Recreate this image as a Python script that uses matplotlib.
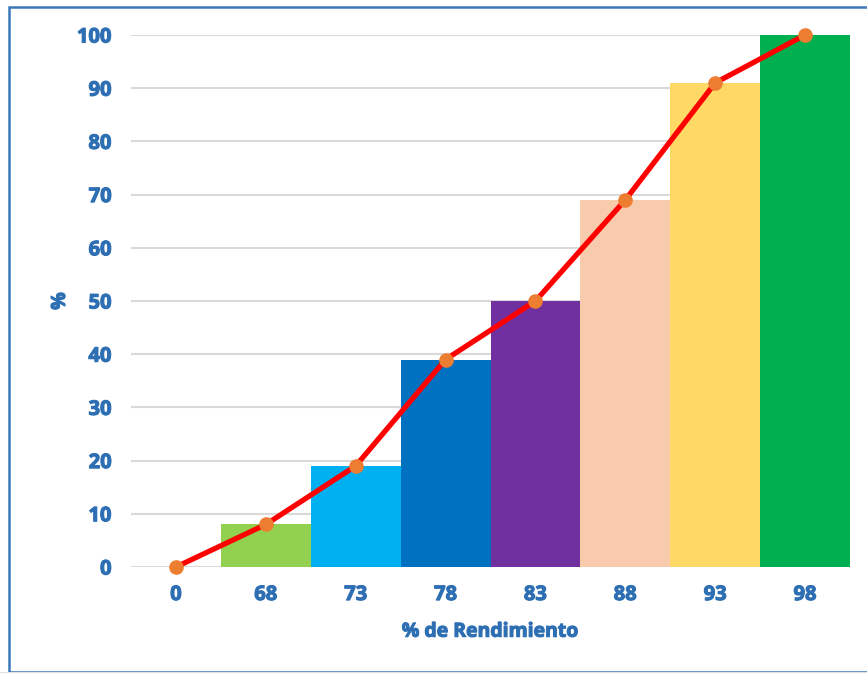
import matplotlib
matplotlib.use("Agg")
import matplotlib.pyplot as plt
import matplotlib.patheffects as pe
from matplotlib.patches import Rectangle

# Cumulative performance data
categories = ["0", "68", "73", "78", "83", "88", "93", "98"]
bar_values = [8, 19, 39, 50, 69, 91, 100]          # bars for 68 .. 98
line_values = [0, 8, 19, 39, 50, 69, 91, 100]      # cumulative curve incl. origin
bar_colors = ["#92D050", "#00B0F0", "#0070C0", "#7030A0",
              "#F8CBAD", "#FFD966", "#00B050"]
y_ticks = [0, 10, 20, 30, 40, 50, 60, 70, 80, 90, 100]

text_color = "#2E6FB4"
font = ["Open Sans", "DejaVu Sans"]
weight = "bold"
heavy = [pe.withStroke(linewidth=0.8, foreground=text_color)]

fig = plt.figure(figsize=(8.67, 6.73), dpi=100)
ax = fig.add_axes([131 / 867, 1 - 567 / 673, 719 / 867, 532 / 673])

x = list(range(len(categories)))
ax.bar(x[1:], bar_values, width=1.0, color=bar_colors, zorder=2, linewidth=0)
ax.plot(x, line_values, color="#FF0000", lw=3.8, zorder=3,
        marker="o", markersize=9.5, markerfacecolor="#ED7D31",
        markeredgecolor="#ED7D31", clip_on=False, solid_capstyle="round")

ax.set_xlim(-0.5, len(categories) - 0.5)
ax.set_ylim(0, 100)
ax.set_yticks(y_ticks)
ax.set_xticks(x)
ax.set_xticklabels(categories)
ax.yaxis.grid(True, color="#D9D9D9", lw=1.5, zorder=0)
ax.set_axisbelow(True)
for s in ax.spines.values():
    s.set_visible(False)
ax.tick_params(axis="both", length=0, labelsize=14.5, colors=text_color)
ax.tick_params(axis="y", pad=14)
ax.tick_params(axis="x", pad=13)
for lab in ax.get_xticklabels() + ax.get_yticklabels():
    lab.set_fontweight(weight)
    lab.set_family(font)
    lab.set_path_effects(heavy)

ax.set_xlabel("% de Rendimiento", fontsize=14, fontweight=weight,
              color=text_color, family=font, labelpad=12,
              path_effects=heavy)
ax.set_ylabel("%", fontsize=14, fontweight=weight, color=text_color,
              family=font, labelpad=5, path_effects=heavy)

# Outer frame
fig.patches.append(Rectangle((9 / 867, 1 / 673), 1.0, 665 / 673,
                             transform=fig.transFigure, fill=False,
                             edgecolor="#3B78BA", lw=1.8, zorder=0))
fig.patches.append(Rectangle((0, 0), 1, 1.5 / 673, transform=fig.transFigure,
                             facecolor="#E0E0E0", edgecolor="none", zorder=1))

fig.savefig("out.png", dpi=100)
